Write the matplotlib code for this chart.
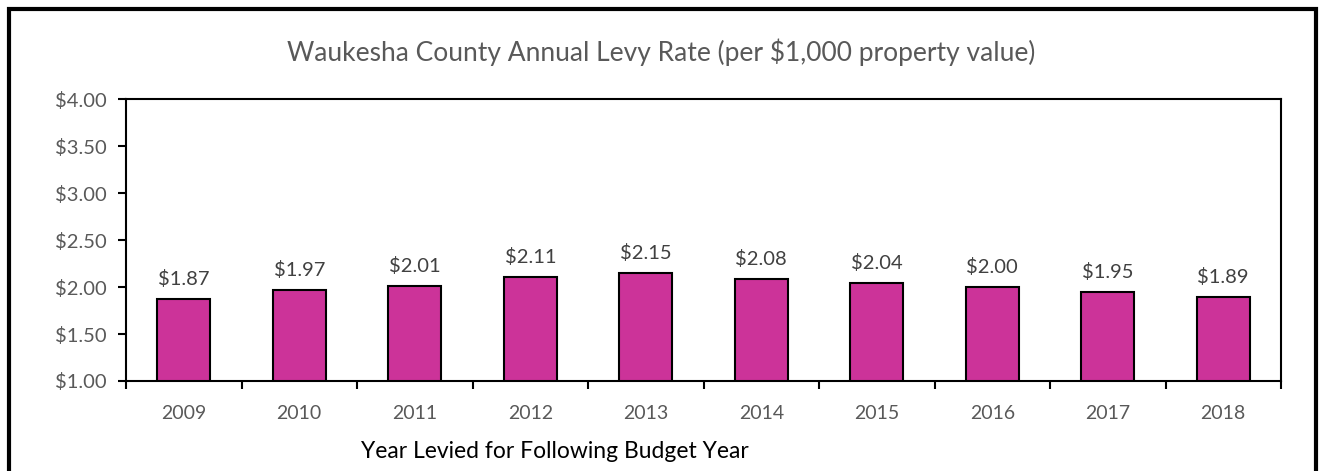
import numpy as np
import matplotlib.pyplot as plt
from matplotlib.patches import Rectangle

years = ["2009", "2010", "2011", "2012", "2013", "2014", "2015", "2016", "2017", "2018"]
rates = [1.87, 1.97, 2.01, 2.11, 2.15, 2.08, 2.04, 2.00, 1.95, 1.89]

plt.rcParams['font.family'] = ['Lato', 'DejaVu Sans']

fig = plt.figure(figsize=(13.23, 4.71), dpi=100)
ax = fig.add_axes([126 / 1323, 1 - 381 / 471, (1281 - 126) / 1323, (381 - 99) / 471])

x = np.arange(len(years))
ax.bar(x, [r - 1 for r in rates], bottom=1, width=0.46, color="#CC3399",
       edgecolor="black", linewidth=1.5, zorder=3)
for xi, r in zip(x, rates):
    ax.annotate("$%.2f" % r, (xi, r), xytext=(0, 8), textcoords="offset points",
                ha="center", va="bottom", fontsize=14.5, color="#404040")

ax.set_xlim(-0.5, len(years) - 0.5)
ax.set_ylim(1, 4)
ax.set_yticks(np.arange(1, 4.01, 0.5))
ax.set_yticklabels(["$%.2f" % v for v in np.arange(1, 4.01, 0.5)])
ax.set_xticks(x)
ax.set_xticklabels(years)
ax.set_xticks(np.arange(-0.5, len(years)), minor=True)
ax.tick_params(axis="x", which="major", length=0, pad=17, labelsize=14, labelcolor="#595959")
ax.tick_params(axis="x", which="minor", length=6, width=1.5, direction="out")
ax.tick_params(axis="y", length=6, width=1.5, direction="out", labelsize=14.5,
               labelcolor="#595959", pad=8)
for s in ax.spines.values():
    s.set_linewidth(1.5)

fig.text(0.5, 1 - 52 / 471, "Waukesha County Annual Levy Rate (per $1,000 property value)",
         ha="center", va="center", fontsize=19, color="#595959")
fig.text(555 / 1323, 1 - 452 / 471, "Year Levied for Following Budget Year",
         ha="center", va="center", fontsize=16.5, color="black")

# outer chart border
fig.patches.append(Rectangle((9 / 1323, -0.02), (1316 - 9) / 1323, 1 - 9 / 471 + 0.02,
                             transform=fig.transFigure, fill=False,
                             edgecolor="black", linewidth=3))

plt.savefig("out.png", dpi=100)
